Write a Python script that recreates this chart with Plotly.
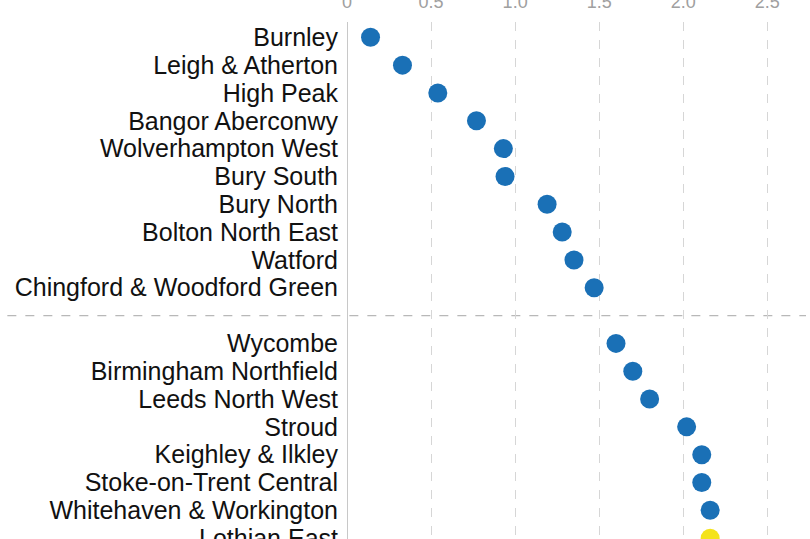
import plotly.graph_objects as go

constituencies_top = [
    "Burnley", "Leigh & Atherton", "High Peak", "Bangor Aberconwy",
    "Wolverhampton West", "Bury South", "Bury North", "Bolton North East",
    "Watford", "Chingford & Woodford Green",
]
values_top = [0.14, 0.33, 0.54, 0.77, 0.93, 0.94, 1.19, 1.28, 1.35, 1.47]

constituencies_bottom = [
    "Wycombe", "Birmingham Northfield", "Leeds North West", "Stroud",
    "Keighley & Ilkley", "Stoke-on-Trent Central", "Whitehaven & Workington",
    "Lothian East",
]
values_bottom = [1.60, 1.70, 1.80, 2.02, 2.11, 2.11, 2.16, 2.16]

x_ticks = [0, 0.5, 1.0, 1.5, 2.0, 2.5]
x_ticklabels = ["0", "0.5", "1.0", "1.5", "2.0", "2.5"]

BLUE = "#1a70b6"
YELLOW = "#f4e31c"

# row positions: top group 0..9, gap row 10, bottom group 11..18
pos_top = list(range(len(constituencies_top)))
gap_pos = len(constituencies_top)
pos_bottom = [gap_pos + 1 + i for i in range(len(constituencies_bottom))]

colors_bottom = [BLUE] * (len(constituencies_bottom) - 1) + [YELLOW]

fig = go.Figure()
fig.add_trace(go.Scatter(
    x=values_top, y=pos_top, mode="markers",
    marker=dict(size=19, color=BLUE), showlegend=False, hoverinfo="skip",
))
fig.add_trace(go.Scatter(
    x=values_bottom, y=pos_bottom, mode="markers",
    marker=dict(size=19, color=colors_bottom), showlegend=False, hoverinfo="skip",
))

fig.add_shape(
    type="line", xref="paper", yref="y",
    x0=-0.74, x1=1.0, y0=gap_pos, y1=gap_pos,
    line=dict(color="#b8b8b8", width=1.2, dash="dash"), layer="below",
)

fig.update_layout(
    width=810, height=539,
    margin=dict(l=347, r=4, t=22, b=0, autoexpand=False),
    paper_bgcolor="white", plot_bgcolor="white",
    font=dict(family="Liberation Sans, Arial, sans-serif", color="#111111"),
)
fig.update_xaxes(
    side="top", range=[0, 2.73], automargin=False,
    tickvals=x_ticks, ticktext=x_ticklabels,
    tickfont=dict(size=18, color="#a0a0a0"),
    ticklabelstandoff=9, ticklabeloverflow="allow",
    showgrid=True, gridcolor="#d6d6d6", griddash="dash", gridwidth=1,
    zeroline=True, zerolinecolor="#c8c8c8", zerolinewidth=1.2,
    showline=False, ticks="",
)
fig.update_yaxes(
    range=[18.03, -0.55], automargin=False,
    tickvals=pos_top + pos_bottom,
    ticktext=constituencies_top + constituencies_bottom,
    tickfont=dict(size=25, color="#111111"),
    showgrid=False, zeroline=False, showline=False, ticks="",
    ticklabelstandoff=8, ticklabeloverflow="allow",
)

fig.write_html("out.html")
